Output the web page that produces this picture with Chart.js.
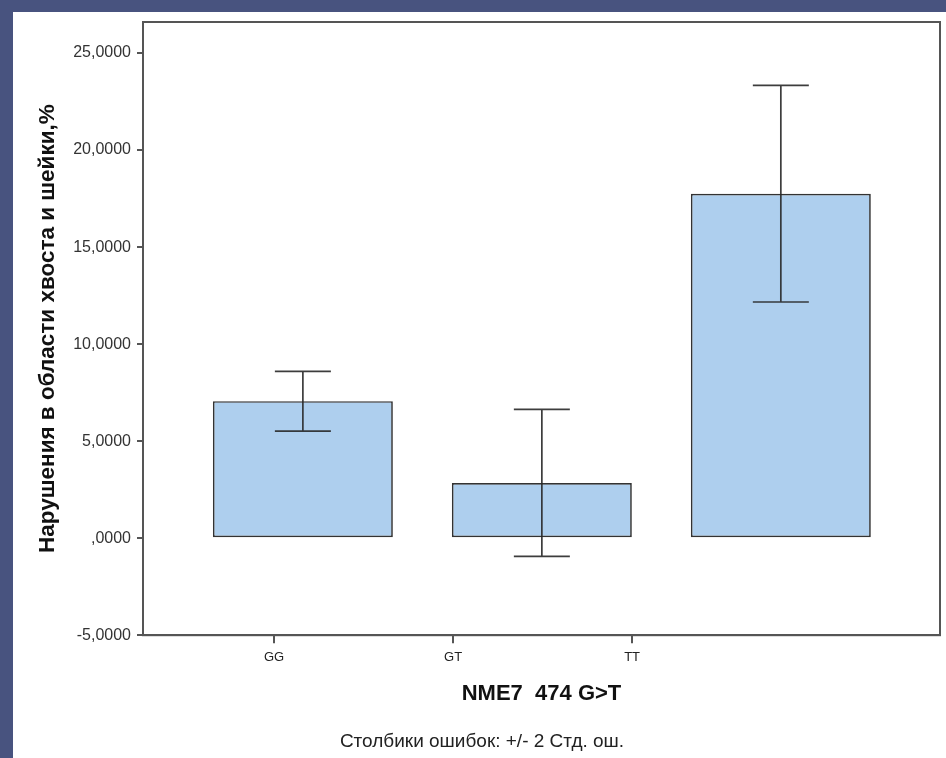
<!DOCTYPE html>
<html>
<head>
<meta charset="utf-8">
<script src="https://cdn.jsdelivr.net/npm/chart.js@4/dist/chart.umd.min.js"></script>
<style>
  html, body { margin: 0; padding: 0; width: 946px; height: 758px; overflow: hidden; background: #48537f; }
  #wrap { position: absolute; left: 13px; top: 12px; width: 933px; height: 746px; background: #fff; }
</style>
</head>
<body>
<div id="wrap"><canvas id="chart"></canvas></div>
<script>
// data
const genotypes = ["GG", "GT", "TT"];
const means = [7.06, 2.84, 17.75];
const errLow = [5.52, -0.94, 12.17];   // mean - 2 SE
const errHigh = [8.60, 6.64, 23.33];   // mean + 2 SE
const yTicks = [-5, 0, 5, 10, 15, 20, 25];

const FONT = "'Liberation Sans', Arial, sans-serif";
const AXIS = "#555";

function fmt(v) {
  // SPSS russian style: ,0000 / 5,0000 / -5,0000
  if (v === 0) return ",0000";
  return v.toFixed(4).replace(".", ",");
}

const frame = {
  id: "frame",
  afterDatasetsDraw(chart) {
    const { ctx, chartArea: a } = chart;
    ctx.save();
    ctx.strokeStyle = AXIS;
    ctx.lineWidth = 2;
    ctx.strokeRect(a.left, a.top, a.right - a.left, a.bottom - a.top);
    ctx.restore();
  }
};

const errorBars = {
  id: "errorBars",
  afterDatasetsDraw(chart) {
    const { ctx } = chart;
    const y = chart.scales.y;
    const meta = chart.getDatasetMeta(0);
    ctx.save();
    ctx.strokeStyle = "rgba(40,40,40,0.9)";
    ctx.lineWidth = 1.7;
    meta.data.forEach((bar, i) => {
      const x = bar.x;
      const hi = y.getPixelForValue(errHigh[i]);
      const lo = y.getPixelForValue(errLow[i]);
      ctx.beginPath();
      ctx.moveTo(x, hi); ctx.lineTo(x, lo);
      ctx.moveTo(x - 28, hi); ctx.lineTo(x + 28, hi);
      ctx.moveTo(x - 28, lo); ctx.lineTo(x + 28, lo);
      ctx.stroke();
    });
    ctx.restore();
  }
};

new Chart(document.getElementById("chart"), {
  type: "bar",
  data: {
    datasets: [{
      data: genotypes.map((g, i) => ({ x: i, y: means[i] })),
      backgroundColor: "#aecfee",
      borderColor: "#333",
      borderWidth: 1.7,
      borderSkipped: false,
      barPercentage: 0.753,
      categoryPercentage: 1
    }]
  },
  options: {
    responsive: true,
    maintainAspectRatio: false,
    animation: false,
    layout: { padding: { top: 10, right: 6, left: 11, bottom: 0 } },
    plugins: {
      legend: { display: false },
      tooltip: { enabled: false },
      title: {
        display: true,
        position: "bottom",
        text: "Столбики ошибок: +/- 2 Стд. ош.",
        color: "#222",
        font: { family: FONT, size: 19, weight: "normal" },
        padding: { top: 0, bottom: 5 }
      }
    },
    scales: {
      x: {
        type: "linear",
        display: false,
        offset: false,
        grid: { offset: false },
        min: -0.669,
        max: 2.666,
        afterBuildTicks: s => { s.ticks = genotypes.map((g, i) => ({ value: i })); }
      },
      xl: {
        type: "linear",
        position: "bottom",
        offset: false,
        min: -0.732,
        max: 3.72,
        afterBuildTicks: s => { s.ticks = genotypes.map((g, i) => ({ value: i })); },
        afterFit: s => { s.height = 95; },
        ticks: {
          callback: v => genotypes[v],
          color: "#222",
          font: { family: FONT, size: 13 },
          padding: 6,
          maxRotation: 0
        },
        grid: { offset: false, drawOnChartArea: false, tickLength: 8, color: AXIS, lineWidth: 2 },
        border: { display: true, color: AXIS, width: 2 },
        title: {
          display: true,
          text: "NME7  474 G>T",
          color: "#111",
          font: { family: FONT, size: 22, weight: "bold" },
          padding: { top: 0, bottom: 23 }
        }
      },
      y: {
        min: -5,
        max: 26.6,
        afterBuildTicks: s => { s.ticks = yTicks.map(v => ({ value: v })); },
        afterFit: s => { s.width = 119; s.paddingTop = 0; s.paddingBottom = 0; },
        ticks: {
          callback: v => fmt(v),
          color: "#333",
          font: { family: FONT, size: 16 },
          padding: 6
        },
        grid: { drawOnChartArea: false, tickLength: 6, color: AXIS, lineWidth: 2 },
        border: { display: true, color: AXIS, width: 2 },
        title: {
          display: true,
          text: "Нарушения в области хвоста и шейки,%",
          color: "#111",
          font: { family: FONT, size: 22.5, weight: "bold" },
          padding: { top: 10, bottom: 0 }
        }
      }
    }
  },
  plugins: [frame, errorBars]
});
</script>
</body>
</html>
